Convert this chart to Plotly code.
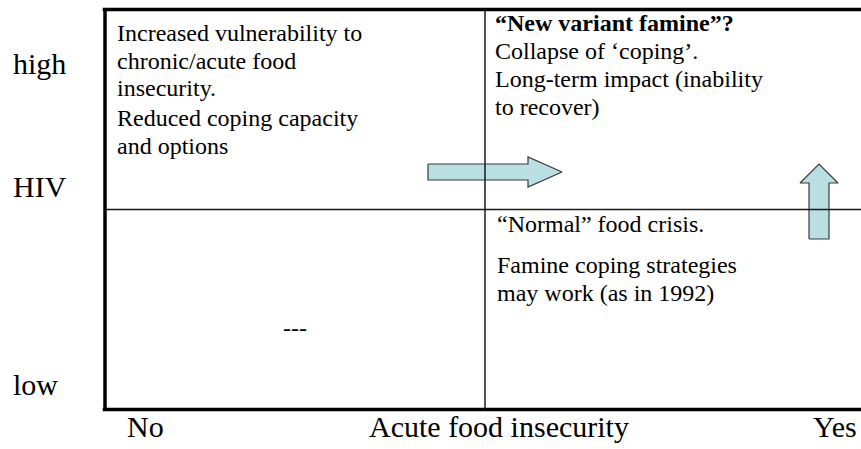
import plotly.graph_objects as go

# ---- data / content ----
x_categories = ["No", "Yes"]
x_title = "Acute food insecurity"
y_levels = ["low", "high"]
y_title = "HIV"

q_high_no = ["Increased vulnerability to", "chronic/acute food", "insecurity.",
             "Reduced coping capacity", "and options"]
q_high_yes = ["<b>\u201cNew variant famine\u201d?</b>", "Collapse of \u2018coping\u2019.",
              "Long-term impact (inability", "to recover)"]
q_low_yes = ["\u201cNormal\u201d food crisis.", "Famine coping strategies",
             "may work (as in 1992)"]
q_low_no = ["---"]

# ---- layout constants (pixel mapping of the 861x449 canvas) ----
W, H = 861, 449
X0PX, XUNIT = 105, 380.0     # x=0 at px 105, 1 unit = 380 px
Y0PX, YUNIT = 409.5, 200.0   # y=0 at px 409.5, 1 unit = 200 px

def dx(px):
    return (px - X0PX) / XUNIT

def dy(py):
    return (Y0PX - py) / YUNIT

FONT = "Liberation Serif"
QSIZE = 24
LSIZE = 30

fig = go.Figure()

# frame and quadrant dividers
shapes = []
thick = dict(color="black", width=3.5)
thin = dict(color="#1a1a1a", width=1.5)
shapes.append(dict(type="line", xref="x", yref="y", x0=0, x1=0, y0=-0.008, y1=2.0, line=thick))
shapes.append(dict(type="line", xref="x", yref="y", x0=-0.006, x1=2, y0=2.0, y1=2.0, line=thick))
shapes.append(dict(type="line", xref="x", yref="y", x0=-0.006, x1=2, y0=0, y1=0, line=thick))
shapes.append(dict(type="line", xref="x", yref="y", x0=2, x1=2, y0=0, y1=2, line=thick))
shapes.append(dict(type="line", xref="x", yref="y", x0=1, x1=1, y0=0, y1=2, line=thin))
shapes.append(dict(type="line", xref="x", yref="y", x0=0, x1=2, y0=1, y1=1, line=thin))

ARROW_FILL = "#b9dfe2"
ARROW_LINE = "#3a3a3a"

def block_arrow(start, end, shaft_half, head_half, head_len, horizontal):
    # returns polygon coordinates in data units
    if horizontal:
        (xs, y), (xe, _) = start, end
        xb = xe - head_len
        xs_ = [xs, xb, xb, xe, xb, xb, xs, xs]
        ys_ = [y + shaft_half, y + shaft_half, y + head_half, y, y - head_half,
               y - shaft_half, y - shaft_half, y + shaft_half]
    else:
        (x, ys), (_, ye) = start, end
        yb = ye - head_len
        xs_ = [x - shaft_half, x - shaft_half, x - head_half, x, x + head_half,
               x + shaft_half, x + shaft_half, x - shaft_half]
        ys_ = [ys, yb, yb, ye, yb, yb, ys, ys]
    return xs_, ys_

# right arrow: from high/No quadrant into high/Yes
ax, ay = block_arrow((dx(428), dy(172)), (dx(562), dy(172)),
                     8 / YUNIT, 15 / YUNIT, 34 / XUNIT, True)
fig.add_trace(go.Scatter(x=ax, y=ay, mode="lines", fill="toself",
                         fillcolor=ARROW_FILL, line=dict(color=ARROW_LINE, width=1.2),
                         hoverinfo="skip", showlegend=False))
# up arrow: from low/Yes quadrant into high/Yes
ux, uy = block_arrow((dx(819), dy(239)), (dx(819), dy(164)),
                     10 / XUNIT, 19 / XUNIT, 19 / YUNIT, False)
fig.add_trace(go.Scatter(x=ux, y=uy, mode="lines", fill="toself",
                         fillcolor=ARROW_FILL, line=dict(color=ARROW_LINE, width=1.2),
                         hoverinfo="skip", showlegend=False))

annotations = []

def add_lines(lines, x_px, y_px_list):
    for txt, ypx in zip(lines, y_px_list):
        annotations.append(dict(x=dx(x_px), y=dy(ypx), xref="x", yref="y", text=txt,
                                showarrow=False, xanchor="left", yanchor="middle",
                                borderpad=0,
                                font=dict(family=FONT, size=QSIZE, color="black")))

add_lines(q_high_no, 116, [33, 60.5, 87.5, 117.5, 145.5])
add_lines(q_high_yes, 494, [22.5, 50.5, 78.5, 106.5])
add_lines(q_low_yes, 496, [223.5, 265, 292.5])
annotations.append(dict(x=dx(295), y=dy(328), xref="x", yref="y", text=q_low_no[0],
                        showarrow=False, xanchor="center", yanchor="middle",
                        font=dict(family=FONT, size=QSIZE, color="black")))

# y-axis labels
for txt, ypx in [(y_levels[1], 63), (y_title, 186), (y_levels[0], 384)]:
    annotations.append(dict(x=dx(11), y=dy(ypx), xref="x", yref="y", text=txt,
                            showarrow=False, xanchor="left", yanchor="middle",
                            font=dict(family=FONT, size=LSIZE, color="black")))
# x-axis labels
annotations.append(dict(x=dx(145), y=dy(426), xref="x", yref="y", text=x_categories[0],
                        showarrow=False, xanchor="center", yanchor="middle",
                        font=dict(family=FONT, size=LSIZE, color="black")))
annotations.append(dict(x=dx(499), y=dy(426), xref="x", yref="y", text=x_title,
                        showarrow=False, xanchor="center", yanchor="middle",
                        font=dict(family=FONT, size=LSIZE, color="black")))
annotations.append(dict(x=dx(859), y=dy(426), xref="x", yref="y", text=x_categories[1],
                        showarrow=False, xanchor="right", yanchor="middle",
                        font=dict(family=FONT, size=LSIZE, color="black")))

fig.update_layout(
    width=W, height=H,
    margin=dict(l=0, r=0, t=0, b=0),
    paper_bgcolor="white", plot_bgcolor="white",
    shapes=shapes, annotations=annotations,
    showlegend=False,
    font=dict(family=FONT),
    xaxis=dict(range=[dx(0), dx(W)], visible=False, fixedrange=True),
    yaxis=dict(range=[dy(H), dy(0)], visible=False, fixedrange=True),
)

fig.write_html("out.html", config={"displayModeBar": False},
               post_script="document.body.style.margin='0';document.body.style.padding='0';")
